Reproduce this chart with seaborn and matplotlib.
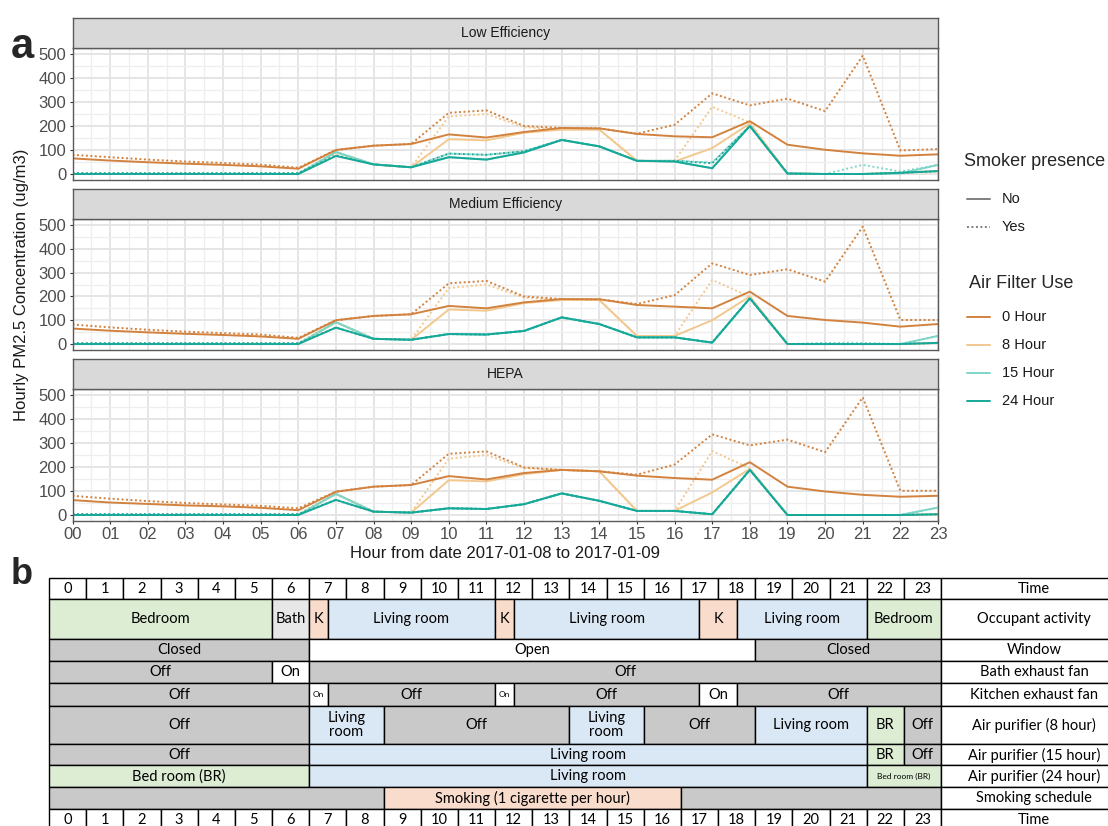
import matplotlib
matplotlib.use("Agg")
import numpy as np
import pandas as pd
import matplotlib.pyplot as plt
from matplotlib.lines import Line2D
from matplotlib.patches import Rectangle
import seaborn as sns

# ---------------------------------------------------------------------------
# Data (hourly PM2.5, ug/m3)
# ---------------------------------------------------------------------------
HOURS = list(range(24))
HOUR_LABELS = ["00", "01", "02", "03", "04", "05", "06", "07", "08", "09", "10", "11",
               "12", "13", "14", "15", "16", "17", "18", "19", "20", "21", "22", "23"]
PANELS = ["Low Efficiency", "Medium Efficiency", "HEPA"]
FILTERS = ["0 Hour", "8 Hour", "15 Hour", "24 Hour"]
SMOKER = ["No", "Yes"]

low_0h_no = [65, 56, 49, 43, 38, 32, 22, 100, 118, 125, 165, 152, 175, 192, 190, 167, 157, 153, 220, 122, 101, 86, 76, 82]
low_0h_yes = [80, 70, 60, 52, 46, 39, 26, 100, 118, 125, 255, 265, 200, 192, 190, 168, 205, 336, 286, 314, 262, 493, 98, 104]
low_8h_no = [0, 0, 0, 0, 0, 0, 0, 90, 40, 28, 145, 140, 172, 185, 185, 55, 52, 108, 210, 2, 0, 0, 5, 12]
low_8h_yes = [3, 3, 3, 3, 3, 3, 3, 90, 40, 28, 240, 250, 195, 185, 185, 55, 55, 280, 215, 2, 0, 0, 5, 12]
low_15h_no = [0, 0, 0, 0, 0, 0, 0, 92, 40, 28, 70, 60, 90, 142, 115, 55, 52, 24, 200, 2, 0, 0, 2, 38]
low_15h_yes = [3, 3, 3, 3, 3, 3, 3, 92, 40, 28, 85, 80, 95, 142, 115, 55, 55, 48, 200, 2, 0, 38, 10, 38]
low_24h_no = [0, 0, 0, 0, 0, 0, 0, 75, 40, 28, 70, 60, 90, 142, 115, 55, 52, 24, 200, 2, 0, 0, 5, 12]
low_24h_yes = [3, 3, 3, 3, 3, 3, 3, 78, 40, 28, 85, 80, 95, 142, 115, 55, 55, 45, 200, 2, 0, 0, 5, 12]

med_0h_no = [65, 56, 49, 43, 38, 32, 22, 100, 118, 125, 160, 150, 175, 189, 188, 164, 157, 150, 220, 118, 101, 90, 73, 84]
med_0h_yes = [82, 70, 60, 52, 46, 40, 26, 100, 118, 125, 255, 265, 200, 189, 188, 168, 205, 339, 290, 314, 262, 493, 101, 101]
med_8h_no = [0, 0, 0, 0, 0, 0, 0, 92, 22, 18, 145, 140, 172, 185, 185, 34, 34, 100, 200, 0, 0, 0, 0, 5]
med_8h_yes = [3, 3, 3, 3, 3, 3, 3, 92, 22, 18, 235, 250, 195, 185, 185, 34, 34, 269, 199, 0, 0, 0, 0, 5]
med_15h_no = [0, 0, 0, 0, 0, 0, 0, 92, 22, 18, 42, 40, 55, 112, 84, 28, 28, 6, 192, 0, 0, 0, 0, 34]
med_15h_yes = [3, 3, 3, 3, 3, 3, 3, 92, 22, 18, 42, 40, 55, 112, 84, 28, 28, 6, 192, 0, 5, 5, 0, 34]
med_24h_no = [0, 0, 0, 0, 0, 0, 0, 69, 22, 18, 42, 40, 55, 112, 84, 28, 28, 6, 192, 0, 0, 0, 0, 5]
med_24h_yes = [3, 3, 3, 3, 3, 3, 3, 69, 22, 18, 42, 40, 55, 112, 84, 28, 28, 6, 192, 0, 0, 0, 0, 5]

hepa_0h_no = [62, 52, 46, 40, 36, 30, 20, 97, 118, 125, 162, 148, 175, 188, 182, 164, 154, 147, 220, 118, 98, 84, 76, 80]
hepa_0h_yes = [80, 68, 58, 50, 44, 38, 28, 97, 118, 125, 255, 265, 198, 188, 182, 168, 210, 336, 290, 314, 262, 490, 101, 101]
hepa_8h_no = [0, 0, 0, 0, 0, 0, 0, 88, 14, 10, 145, 140, 170, 188, 182, 17, 17, 94, 192, 0, 0, 0, 0, 3]
hepa_8h_yes = [3, 3, 3, 3, 3, 3, 3, 88, 14, 10, 235, 250, 195, 188, 182, 17, 17, 266, 195, 0, 0, 0, 0, 3]
hepa_15h_no = [0, 0, 0, 0, 0, 0, 0, 88, 14, 10, 28, 25, 45, 90, 59, 17, 17, 3, 188, 0, 0, 0, 0, 31]
hepa_15h_yes = [3, 3, 3, 3, 3, 3, 3, 88, 14, 10, 28, 25, 45, 90, 59, 17, 17, 3, 188, 0, 0, 0, 0, 31]
hepa_24h_no = [0, 0, 0, 0, 0, 0, 0, 63, 14, 10, 28, 25, 45, 90, 59, 17, 17, 3, 188, 0, 0, 0, 0, 3]
hepa_24h_yes = [3, 3, 3, 3, 3, 3, 3, 63, 14, 10, 28, 25, 45, 90, 59, 17, 17, 3, 188, 0, 0, 0, 0, 3]

SERIES = {
    "Low Efficiency": {
        ("0 Hour", "No"): low_0h_no, ("0 Hour", "Yes"): low_0h_yes,
        ("8 Hour", "No"): low_8h_no, ("8 Hour", "Yes"): low_8h_yes,
        ("15 Hour", "No"): low_15h_no, ("15 Hour", "Yes"): low_15h_yes,
        ("24 Hour", "No"): low_24h_no, ("24 Hour", "Yes"): low_24h_yes,
    },
    "Medium Efficiency": {
        ("0 Hour", "No"): med_0h_no, ("0 Hour", "Yes"): med_0h_yes,
        ("8 Hour", "No"): med_8h_no, ("8 Hour", "Yes"): med_8h_yes,
        ("15 Hour", "No"): med_15h_no, ("15 Hour", "Yes"): med_15h_yes,
        ("24 Hour", "No"): med_24h_no, ("24 Hour", "Yes"): med_24h_yes,
    },
    "HEPA": {
        ("0 Hour", "No"): hepa_0h_no, ("0 Hour", "Yes"): hepa_0h_yes,
        ("8 Hour", "No"): hepa_8h_no, ("8 Hour", "Yes"): hepa_8h_yes,
        ("15 Hour", "No"): hepa_15h_no, ("15 Hour", "Yes"): hepa_15h_yes,
        ("24 Hour", "No"): hepa_24h_no, ("24 Hour", "Yes"): hepa_24h_yes,
    },
}

# Schedule table (panel b): (start hour, end hour, text, fill, small text?)
ROW_NAMES = ["Time", "Occupant activity", "Window", "Bath exhaust fan",
             "Kitchen exhaust fan", "Air purifier (8 hour)", "Air purifier (15 hour)",
             "Air purifier (24 hour)", "Smoking schedule", "Time"]
activity = [(0, 6, "Bedroom", "green", False), (6, 7, "Bath", "light", False),
            (7, 7.5, "K", "peach", False), (7.5, 12, "Living room", "blue", False),
            (12, 12.5, "K", "peach", False), (12.5, 17.5, "Living room", "blue", False),
            (17.5, 18.5, "K", "peach", False), (18.5, 22, "Living room", "blue", False),
            (22, 24, "Bedroom", "green", False)]
window = [(0, 7, "Closed", "gray", False), (7, 19, "Open", "white", False),
          (19, 24, "Closed", "gray", False)]
bath_fan = [(0, 6, "Off", "gray", False), (6, 7, "On", "white", False),
            (7, 24, "Off", "gray", False)]
kitchen_fan = [(0, 7, "Off", "gray", False), (7, 7.5, "On", "white", True),
               (7.5, 12, "Off", "gray", False), (12, 12.5, "On", "white", True),
               (12.5, 17.5, "Off", "gray", False), (17.5, 18.5, "On", "white", False),
               (18.5, 24, "Off", "gray", False)]
purifier_8h = [(0, 7, "Off", "gray", False), (7, 9, "Living\nroom", "blue", False),
               (9, 14, "Off", "gray", False), (14, 16, "Living\nroom", "blue", False),
               (16, 19, "Off", "gray", False), (19, 22, "Living room", "blue", False),
               (22, 23, "BR", "green", False), (23, 24, "Off", "gray", False)]
purifier_15h = [(0, 7, "Off", "gray", False), (7, 22, "Living room", "blue", False),
                (22, 23, "BR", "green", False), (23, 24, "Off", "gray", False)]
purifier_24h = [(0, 7, "Bed room (BR)", "green", False), (7, 22, "Living room", "blue", False),
                (22, 24, "Bed room (BR)", "green", True)]
smoking = [(0, 9, "", "gray", False), (9, 17, "Smoking (1 cigarette per hour)", "peach", False),
           (17, 24, "", "gray", False)]
SCHEDULE = [activity, window, bath_fan, kitchen_fan, purifier_8h,
            purifier_15h, purifier_24h, smoking]

# ---------------------------------------------------------------------------
# Style
# ---------------------------------------------------------------------------
FILTER_COLORS = {"0 Hour": "#D2823E", "8 Hour": "#F2C88F",
                 "15 Hour": "#7DD6C8", "24 Hour": "#16A899"}
DOTTED = (0, (1, 1.3))
DRAW_ORDER = ["8 Hour", "15 Hour", "24 Hour", "0 Hour"]
CELL_COLORS = {"green": "#DCEDD4", "blue": "#DAE7F4", "peach": "#F9DCCB",
               "gray": "#C9C9C9", "light": "#E7E7E7", "white": "#FFFFFF"}
BORDER = "#5A5A5A"
TICK_GREY = "#4D4D4D"

sns.set_style("white")
plt.rcParams["font.family"] = ["Liberation Sans", "DejaVu Sans"]
TABLE_FONT = ["Lato", "DejaVu Sans"]

W, H = 1108, 826
fig = plt.figure(figsize=(W / 100, H / 100), dpi=100)


def px_axes(x0, y0, x1, y1):
    return fig.add_axes([x0 / W, 1 - y1 / H, (x1 - x0) / W, (y1 - y0) / H])


rows = []
for panel in PANELS:
    for (filt, smk), vals in SERIES[panel].items():
        for h, v in zip(HOURS, vals):
            rows.append({"panel": panel, "filter": filt, "smoker": smk, "hour": h, "pm": v})
df = pd.DataFrame(rows)

# ---------------------------------------------------------------------------
# Panel a: faceted line charts
# ---------------------------------------------------------------------------
PANEL_X0, PANEL_X1 = 72.5, 938
PANEL_ROWS = [(18, 48, 180), (189, 219, 350), (359, 389, 521)]

for i, panel in enumerate(PANELS):
    strip_top, plot_top, plot_bottom = PANEL_ROWS[i]
    ax = px_axes(PANEL_X0, plot_top, PANEL_X1, plot_bottom)
    sub = df[df["panel"] == panel]
    for filt in DRAW_ORDER:
        for smk in ["Yes", "No"]:
            d = sub[(sub["filter"] == filt) & (sub["smoker"] == smk)]
            sns.lineplot(data=d, x="hour", y="pm", ax=ax, color=FILTER_COLORS[filt],
                         linestyle=DOTTED if smk == "Yes" else "-", linewidth=1.4,
                         errorbar=None, legend=False)
    ax.set_xlim(0, 23)
    ax.set_ylim(-25, 525)
    ax.set_xticks(HOURS)
    ax.set_xticks(np.arange(0.5, 23, 1.0), minor=True)
    ax.set_yticks([0, 100, 200, 300, 400, 500])
    ax.set_yticks([50, 150, 250, 350, 450], minor=True)
    ax.grid(which="major", color="#E3E3E3", linewidth=1.3)
    ax.grid(which="minor", color="#EEEEEE", linewidth=0.9)
    ax.set_axisbelow(True)
    ax.set_xlabel("")
    ax.set_ylabel("")
    for sp in ax.spines.values():
        sp.set_color(BORDER)
        sp.set_linewidth(1.0)
    ax.tick_params(axis="y", which="major", length=2.5, width=0.8, color="#333333",
                   labelsize=12, labelcolor=TICK_GREY, pad=2, left=True)
    ax.tick_params(which="minor", length=0)
    if i == len(PANELS) - 1:
        ax.set_xticklabels(HOUR_LABELS)
        ax.tick_params(axis="x", which="major", length=2.5, width=0.8, color="#333333",
                       labelsize=12, labelcolor=TICK_GREY, pad=2, bottom=True)
    else:
        ax.tick_params(axis="x", which="major", length=0, labelbottom=False)

    strip = px_axes(PANEL_X0, strip_top, PANEL_X1, plot_top)
    strip.set_facecolor("#D9D9D9")
    strip.set_xticks([])
    strip.set_yticks([])
    for sp in strip.spines.values():
        sp.set_color(BORDER)
        sp.set_linewidth(1.0)
    strip.text(0.5, 0.5, panel, ha="center", va="center", fontsize=10,
               color="#1A1A1A", transform=strip.transAxes)

# ---------------------------------------------------------------------------
# Panel b: schedule table
# ---------------------------------------------------------------------------
TABLE_X0 = 49
HOUR_PX = 37.17
ROW_EDGES = [578, 599, 639, 661, 683, 706, 744, 765, 787, 809, 831]
LABEL_COL = (24, 29)

tab = px_axes(TABLE_X0, 578, W, H)
tab.set_xlim(0, (W - TABLE_X0) / HOUR_PX)
tab.set_ylim(H, 578)
tab.axis("off")


def cell(x0, x1, top, bottom, text, fill, small=False):
    tab.add_patch(Rectangle((x0, top), x1 - x0, bottom - top, facecolor=fill,
                            edgecolor="black", linewidth=1.0, clip_on=False))
    if text:
        tab.text((x0 + x1) / 2, (top + bottom) / 2 + 0.5, text, ha="center", va="center",
                 fontsize=6 if small else 10.5, family=TABLE_FONT, color="black",
                 linespacing=1.0, clip_on=False)


for r, name in enumerate(ROW_NAMES):
    top, bottom = ROW_EDGES[r], ROW_EDGES[r + 1]
    if name == "Time":
        for h in HOURS:
            cell(h, h + 1, top, bottom, str(h), "white")
    else:
        for x0, x1, text, fill, small in SCHEDULE[r - 1]:
            cell(x0, x1, top, bottom, text, CELL_COLORS[fill], small)
    cell(LABEL_COL[0], LABEL_COL[1], top, bottom, name, "white")

# ---------------------------------------------------------------------------
# Overlay: labels and legend
# ---------------------------------------------------------------------------
ov = px_axes(0, 0, W, H)
ov.set_xlim(0, W)
ov.set_ylim(H, 0)
ov.axis("off")
ov.patch.set_alpha(0)

ov.text(11, 58, "a", fontsize=30, fontweight="bold", va="baseline", ha="left")
ov.text(11, 584, "b", fontsize=26, fontweight="bold", va="baseline", ha="left")
ov.text(22, 285, "Hourly PM2.5 Concentration (ug/m3)", rotation=90,
        ha="center", va="center", fontsize=12, color="#1A1A1A")
ov.text(505, 553, "Hour from date 2017-01-08 to 2017-01-09",
        ha="center", va="center", fontsize=12, color="#1A1A1A")

ov.text(964, 162, "Smoker presence", fontsize=13, ha="left", va="center")
for y, smk in zip([199, 227], SMOKER):
    ov.add_line(Line2D([967, 990], [y, y], color="#7F7F7F", linewidth=1.4,
                       linestyle=DOTTED if smk == "Yes" else "-"))
    ov.text(1002, y, smk, fontsize=10.5, ha="left", va="center", color="#1A1A1A")

ov.text(969, 283, "Air Filter Use", fontsize=13, ha="left", va="center")
for y, filt in zip([317, 345, 373, 401], FILTERS):
    ov.add_line(Line2D([967, 990], [y, y], color=FILTER_COLORS[filt], linewidth=1.4))
    ov.text(1002, y, filt, fontsize=10.5, ha="left", va="center", color="#1A1A1A")

fig.savefig("out.png", dpi=100)
